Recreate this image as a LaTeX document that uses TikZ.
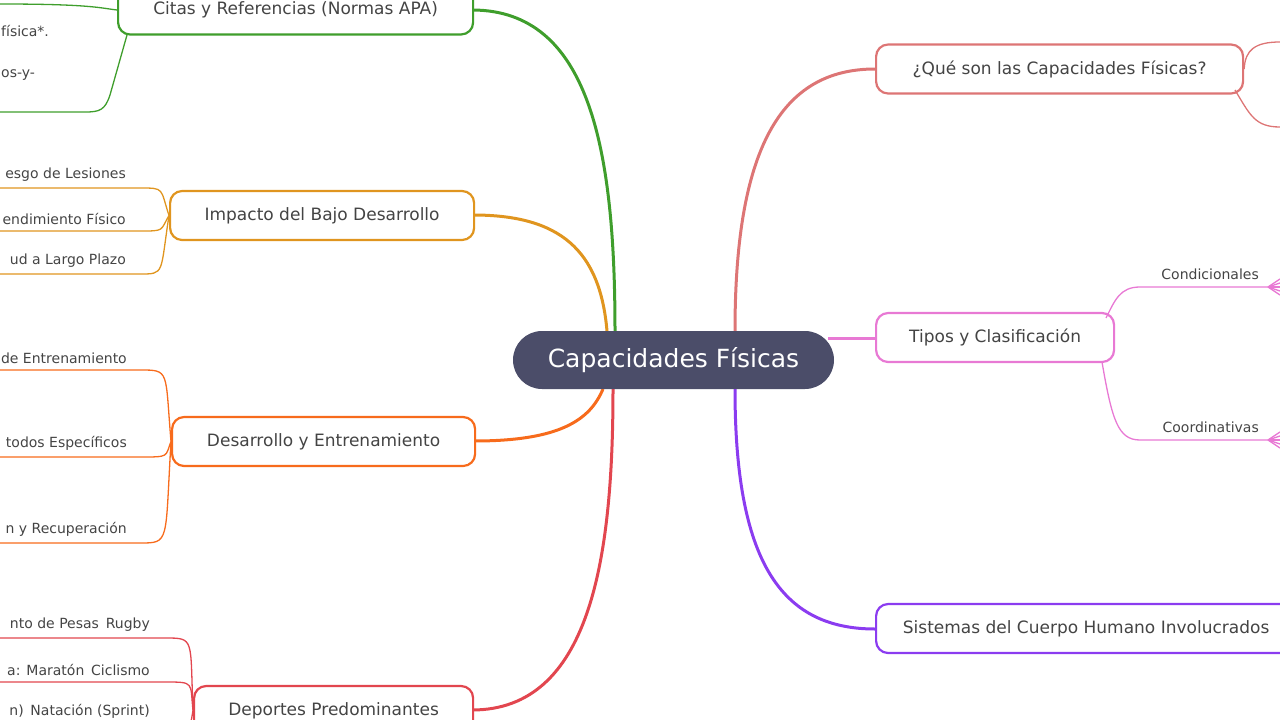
\documentclass[tikz,border=0pt]{standalone}
\usepackage{fontspec}
\setmainfont{DejaVu Sans}
\definecolor{centro}{HTML}{4B4D69}
\definecolor{verde}{HTML}{3F9E2C}
\definecolor{naranja}{HTML}{E0951F}
\definecolor{naranjar}{HTML}{F76B1C}
\definecolor{rojo}{HTML}{E2464F}
\definecolor{salmon}{HTML}{DD7575}
\definecolor{rosa}{HTML}{E879D4}
\definecolor{morado}{HTML}{8B3CF0}
\definecolor{texto}{HTML}{444444}
\tikzset{
  tema/.style={draw=#1, line width=2.2pt, rounded corners=12pt, fill=white, text=texto,
    font=\fontsize{17}{17}\selectfont, minimum height=49pt, anchor=west, inner xsep=25pt},
  rama/.style={draw=#1, line width=3pt},
  hoja/.style={draw=#1, line width=1.3pt},
  etq/.style={text=texto, font=\fontsize{14}{14}\selectfont, inner sep=1pt}
}
\begin{document}
\begin{tikzpicture}[x=1pt,y=-1pt]
\useasboundingbox (0,0) rectangle (1280,720);
\clip (0,0) rectangle (1280,720);
% ramas principales
\draw[rama=verde] (615,331) .. controls (615,150) and (590,10) .. (472,10);
\draw[rama=naranja] (607,331) .. controls (600,250) and (560,215) .. (473,215);
\draw[rama=naranjar] (603,389) .. controls (590,420) and (560,441) .. (474,441);
\draw[rama=rojo] (613,389) .. controls (613,560) and (590,710) .. (472,710);
\draw[rama=salmon] (735,331) .. controls (735,150) and (780,69) .. (875,69);
\draw[rama=rosa] (828,338) -- (875,338);
\draw[rama=morado] (735,389) .. controls (735,560) and (780,629) .. (875,629);
% nodo central
\node[fill=centro, text=white, rounded corners=29pt, minimum width=321pt, minimum height=58pt,
  font=\fontsize{25}{25}\selectfont] (centro) at (673.5,360) {Capacidades Físicas};
% temas
\node[tema=verde, minimum width=355pt] (citas) at (117,10) {Citas y Referencias (Normas APA)};
\node[tema=naranja, minimum width=304pt] (impacto) at (169,215.5) {Impacto del Bajo Desarrollo};
\node[tema=naranjar, minimum width=303pt] (desarrollo) at (171,441.5) {Desarrollo y Entrenamiento};
\node[tema=rojo, minimum width=279pt] (deportes) at (193,710.5) {Deportes Predominantes};
\node[tema=salmon, minimum width=367pt] (que) at (875,69) {¿Qué son las Capacidades Físicas?};
\node[tema=rosa, minimum width=238pt] (tipos) at (875,337.5) {Tipos y Clasificación};
\node[tema=morado, minimum width=420pt] (sistemas) at (875,628.5) {Sistemas del Cuerpo Humano Involucrados};
% hojas de Citas
\coordinate (c1) at (0,4);
\coordinate (c2) at (0,112);
\draw[hoja=verde] (citas.west) .. controls (100,8) and (90,4) .. (c1);
\draw[hoja=verde] (127,35) -- (110,95) .. controls (105,110) and (100,112) .. (85,112) -- (c2);
\node[etq, anchor=west] (c1t) at (0,31) {física*.};
\node[etq, anchor=west] (c2t) at (0,75) {os-y-};
% hojas de Impacto
\foreach \y/\t [count=\i] in {188/esgo de Lesiones,231/endimiento Físico,274/ud a Largo Plazo}{
  \coordinate (i\i) at (0,\y);
  \draw[hoja=naranja] (impacto.west) .. controls (160,\y) and (165,\y) .. (140,\y) -- (i\i);
  \node[etq, anchor=south east] (i\i t) at (127,\y-5) {\t};
}
% hojas de Desarrollo
\foreach \y/\t [count=\i] in {370/de Entrenamiento,457/todos Específicos,543/n y Recuperación}{
  \coordinate (d\i) at (0,\y);
  \draw[hoja=naranjar] (desarrollo.west) .. controls (165,\y) and (170,\y) .. (140,\y) -- (d\i);
  \node[etq, anchor=south east] (d\i t) at (128,\y-5) {\t};
}
% hojas de Deportes
\foreach \y/\t [count=\i] in {638/nto de Pesas\, Rugby,682/a: Maratón\, Ciclismo,725/n)\, Natación (Sprint)}{
  \coordinate (p\i) at (0,\y);
  \draw[hoja=rojo] (deportes.west) .. controls (190,\y) and (195,\y) .. (165,\y) -- (p\i);
  \node[etq, anchor=south east] (p\i t) at (151,\y-5) {\t};
}
% hojas de Que
\coordinate (q1) at (1280,42);
\coordinate (q2) at (1280,127);
\draw[hoja=salmon] (que.east) .. controls (1245,50) and (1255,42) .. (q1);
\draw[hoja=salmon] (1235,90) .. controls (1250,115) and (1255,127) .. (q2);
% hojas de Tipos
\coordinate (t1) at (1268,287);
\coordinate (t2) at (1268,440);
\draw[hoja=rosa] (1106,318) .. controls (1115,300) and (1120,287) .. (1140,287) -- (t1);
\draw[hoja=rosa] (1102,362) .. controls (1112,420) and (1118,440) .. (1140,440) -- (t2);
\foreach \d in {-8,-4,0,4,8}{
  \draw[hoja=rosa] (t1) -- ++(12,\d);
  \draw[hoja=rosa] (t2) -- ++(12,\d);
}
\node[etq, anchor=south east] (t1t) at (1260,281) {Condicionales};
\node[etq, anchor=south east] (t2t) at (1260,434) {Coordinativas};
\end{tikzpicture}
\end{document}
